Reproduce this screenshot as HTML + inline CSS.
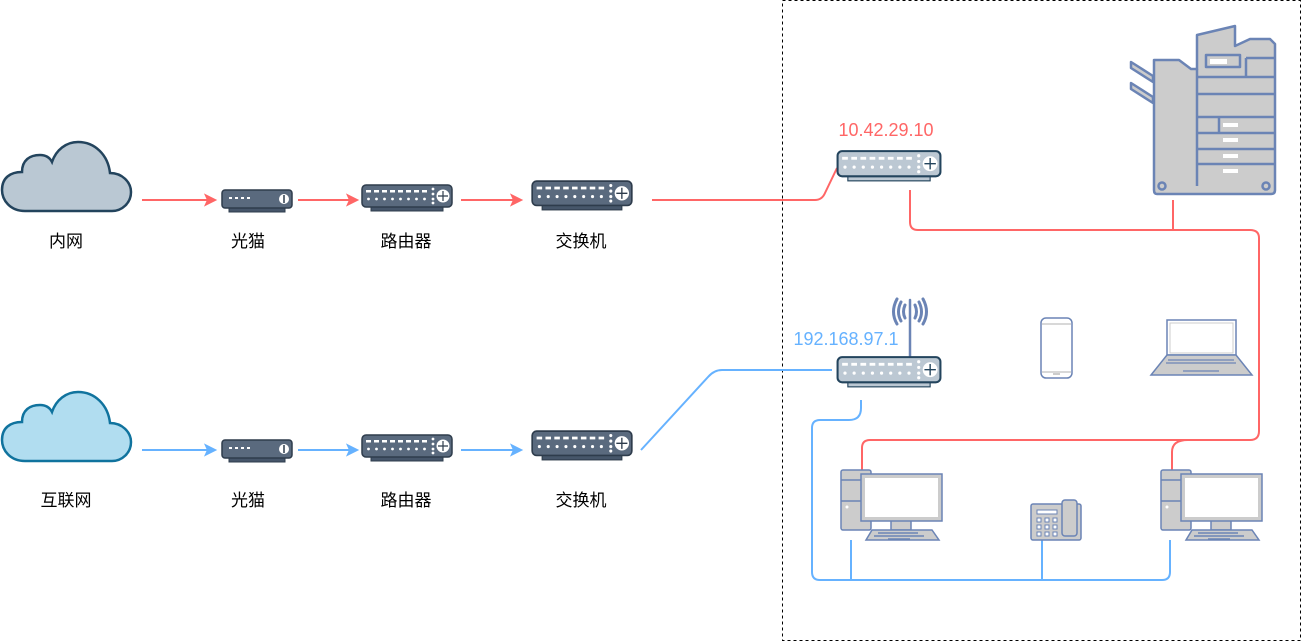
<!DOCTYPE html>
<html><head><meta charset="utf-8"><style>
html,body{margin:0;padding:0;background:#fff;}
svg{display:block;}
text{font-family:"Liberation Sans","Noto Sans CJK SC",sans-serif;}
</style></head><body>
<svg width="1303" height="642" viewBox="0 0 1303 642" xmlns="http://www.w3.org/2000/svg">
<defs>
<symbol id="rtD" viewBox="0 0 92 28">
 <rect x="10" y="22" width="72" height="5" fill="#46566a" stroke="#2e3c4c" stroke-width="1"/>
 <rect x="1" y="1" width="90" height="22" rx="4" fill="#5a6a7e" stroke="#2e3c4c" stroke-width="1.5"/>
 <g fill="#fff">
  <rect x="5" y="6" width="5" height="2.5"/><rect x="13" y="6" width="5" height="2.5"/><rect x="21" y="6" width="5" height="2.5"/><rect x="29" y="6" width="5" height="2.5"/><rect x="37" y="6" width="5" height="2.5"/><rect x="45" y="6" width="5" height="2.5"/><rect x="53" y="6" width="5" height="2.5"/><rect x="61" y="6" width="5" height="2.5"/>
  <circle cx="7.5" cy="15" r="1.4"/><circle cx="15.5" cy="15" r="1.4"/><circle cx="23.5" cy="15" r="1.4"/><circle cx="31.5" cy="15" r="1.4"/><circle cx="39.5" cy="15" r="1.4"/><circle cx="47.5" cy="15" r="1.4"/><circle cx="55.5" cy="15" r="1.4"/><circle cx="63.5" cy="15" r="1.4"/>
  <circle cx="72" cy="5" r="1.4"/><circle cx="72" cy="10" r="1.4"/><circle cx="72" cy="15" r="1.4"/><circle cx="72" cy="19" r="1.4"/>
  <circle cx="82" cy="12" r="6.5"/>
 </g>
 <path d="M77 12h10M82 7v10" stroke="#2e3c4c" stroke-width="1.2"/>
</symbol>
<symbol id="rtL" viewBox="0 0 92 28">
 <rect x="10" y="22" width="72" height="5" fill="#bcc8d3" stroke="#23445d" stroke-width="1"/>
 <rect x="1" y="1" width="90" height="22" rx="4" fill="#bcc8d3" stroke="#23445d" stroke-width="1.8"/>
 <g fill="#fff">
  <rect x="5" y="6" width="5" height="2.5"/><rect x="13" y="6" width="5" height="2.5"/><rect x="21" y="6" width="5" height="2.5"/><rect x="29" y="6" width="5" height="2.5"/><rect x="37" y="6" width="5" height="2.5"/><rect x="45" y="6" width="5" height="2.5"/><rect x="53" y="6" width="5" height="2.5"/><rect x="61" y="6" width="5" height="2.5"/>
  <circle cx="7.5" cy="15" r="1.4"/><circle cx="15.5" cy="15" r="1.4"/><circle cx="23.5" cy="15" r="1.4"/><circle cx="31.5" cy="15" r="1.4"/><circle cx="39.5" cy="15" r="1.4"/><circle cx="47.5" cy="15" r="1.4"/><circle cx="55.5" cy="15" r="1.4"/><circle cx="63.5" cy="15" r="1.4"/>
  <circle cx="72" cy="5" r="1.4"/><circle cx="72" cy="10" r="1.4"/><circle cx="72" cy="15" r="1.4"/><circle cx="72" cy="19" r="1.4"/>
  <circle cx="82" cy="12" r="6.5"/>
 </g>
 <path d="M77 12h10M82 7v10" stroke="#23445d" stroke-width="1.2"/>
</symbol>
<symbol id="modem" viewBox="0 0 72 24">
 <rect x="8" y="18" width="56" height="5" fill="#46566a" stroke="#2e3c4c"/>
 <rect x="1" y="1" width="70" height="18" rx="3" fill="#5a6a7e" stroke="#2e3c4c" stroke-width="1.5"/>
 <g fill="#fff"><rect x="8" y="8" width="3" height="2"/><rect x="14" y="8" width="3" height="2"/><rect x="20" y="8" width="3" height="2"/><rect x="26" y="8" width="3" height="2"/><circle cx="63" cy="10" r="5"/></g>
 <path d="M63 6v8" stroke="#2e3c4c" stroke-width="1.5"/>
</symbol>
<symbol id="pc" viewBox="0 0 104 72">
 <rect x="1" y="1" width="30" height="60" rx="2" fill="#ccc" stroke="#6b84b5" stroke-width="1.5"/>
 <path d="M1 11h30M1 32h30" stroke="#6b84b5" stroke-width="1.5"/>
 <circle cx="7" cy="38" r="1.5" fill="#fff"/>
 <rect x="51" y="50" width="20" height="11" fill="#ccc" stroke="#6b84b5" stroke-width="1.5"/>
 <rect x="21" y="5" width="81" height="47" fill="#ccc" stroke="#6b84b5" stroke-width="1.5"/>
 <rect x="25" y="9" width="73" height="39" fill="#fff"/>
 <path d="M32 61h60l7 10H26z" fill="#ccc" stroke="#6b84b5" stroke-width="1.5"/>
 <path d="M38 64h40M34 67h50M48 70h22" stroke="#6b84b5" stroke-width="1.5"/>
</symbol>
</defs>

<rect x="782.5" y="0.5" width="518" height="640" fill="none" stroke="#000" stroke-dasharray="3,3"/>

<path d="M25,211 C10,211 2,200 2,190 C2,178 10,172 22,172 C22,160 30,155 40,155 C46,155 50,158 52,162 C56,150 66,142 78,142 C95,142 108,155 110,173 C122,173 131,182 131,192 C131,203 122,211 112,211 Z" fill="#bac8d3" stroke="#23445d" stroke-width="2.5"/>
<path d="M25,461 C10,461 2,450 2,440 C2,428 10,422 22,422 C22,410 30,405 40,405 C46,405 50,408 52,412 C56,400 66,392 78,392 C95,392 108,405 110,423 C122,423 131,432 131,442 C131,453 122,461 112,461 Z" fill="#b1ddf0" stroke="#10739e" stroke-width="2.5"/>

<g stroke="#ff6666" stroke-width="2" fill="#ff6666">
 <line x1="142" y1="200" x2="208" y2="200"/><path d="M215 200l-9-4.5 2 4.5-2 4.5z"/>
 <line x1="298" y1="200" x2="350" y2="200"/><path d="M357 200l-9-4.5 2 4.5-2 4.5z"/>
 <line x1="461" y1="200" x2="514" y2="200"/><path d="M521 200l-9-4.5 2 4.5-2 4.5z"/>
</g>
<g stroke="#66b2ff" stroke-width="2" fill="#66b2ff">
 <line x1="142" y1="450" x2="208" y2="450"/><path d="M215 450l-9-4.5 2 4.5-2 4.5z"/>
 <line x1="298" y1="450" x2="350" y2="450"/><path d="M357 450l-9-4.5 2 4.5-2 4.5z"/>
 <line x1="461" y1="450" x2="514" y2="450"/><path d="M521 450l-9-4.5 2 4.5-2 4.5z"/>
</g>

<use href="#modem" x="221" y="189" width="72" height="24"/>
<use href="#rtD" x="361" y="184" width="92" height="28"/>
<use href="#rtD" x="531" y="180" width="102" height="31"/>
<use href="#modem" x="221" y="439" width="72" height="24"/>
<use href="#rtD" x="361" y="434" width="92" height="28"/>
<use href="#rtD" x="531" y="430" width="102" height="31"/>

<g font-size="17" fill="#000" text-anchor="middle">
 <text x="66" y="247">内网</text><text x="248" y="247">光猫</text><text x="406" y="247">路由器</text><text x="581" y="247">交换机</text>
 <text x="66" y="506">互联网</text><text x="248" y="506">光猫</text><text x="406" y="506">路由器</text><text x="581" y="506">交换机</text>
</g>

<g fill="none" stroke="#ff6666" stroke-width="2">
 <path d="M652 200H815Q822 200 825 193L837 168"/>
 <path d="M910 190V222Q910 230 918 230H1250Q1259 230 1259 238V431Q1259 440 1250 440H870Q862 440 862 448V470"/>
 <path d="M1173 200V230"/>
 <path d="M1188 440Q1172 440 1172 452V470"/>
</g>
<g fill="none" stroke="#66b2ff" stroke-width="2">
 <path d="M641 450L708 377Q714 370 722 370H832"/>
 <path d="M861 400V408Q861 420 849 420H820Q812 420 812 428V572Q812 580 820 580H1162Q1170 580 1170 572V540"/>
 <path d="M851 540V580M1042 540V580"/>
</g>

<use href="#rtL" x="836" y="150" width="106" height="32"/>
<text x="886" y="136" font-size="18" fill="#ff6666" text-anchor="middle">10.42.29.10</text>

<g fill="none" stroke="#6b84b5" stroke-width="3" stroke-linecap="round">
 <path d="M910 300V358" stroke-width="2.5"/>
 <path d="M905 305q-3 7 0 13M901 302q-5 10 0 19M897 299q-7 13 0 25M915 305q3 7 0 13M919 302q5 10 0 19M923 299q7 13 0 25"/>
</g>
<use href="#rtL" x="836" y="356" width="106" height="32"/>
<text x="846" y="345" font-size="18" fill="#66b2ff" text-anchor="middle">192.168.97.1</text>

<rect x="1041" y="318" width="31" height="60" rx="5" fill="#fff" stroke="#6b84b5" stroke-width="1.5"/>
<path d="M1042 324h29M1042 372h29" stroke="#ccc" stroke-width="1.5"/>
<rect x="1053" y="373" width="7" height="2" fill="#ccc"/>

<rect x="1167" y="320" width="69" height="35" fill="#fff" stroke="#6b84b5" stroke-width="1.5"/>
<rect x="1170" y="323" width="63" height="30" fill="#fff" stroke="#ccc" stroke-width="1"/>
<path d="M1167 355h69l16 20H1151z" fill="#ccc" stroke="#6b84b5" stroke-width="1.5"/>
<path d="M1168 360h66M1166 363h70M1183 371h36" stroke="#6b84b5" stroke-width="1.2"/>

<use href="#pc" x="840" y="469" width="104" height="72"/>
<use href="#pc" x="1160" y="469" width="104" height="72"/>

<rect x="1031" y="504" width="50" height="36" rx="2" fill="#ccc" stroke="#6b84b5" stroke-width="1.5"/>
<rect x="1062" y="500" width="15" height="36" rx="3" fill="#ccc" stroke="#6b84b5" stroke-width="1.5"/>
<rect x="1037" y="510" width="20" height="4" fill="#fff" stroke="#6b84b5"/>
<g fill="#fff" stroke="#6b84b5" stroke-width="1">
 <rect x="1037" y="518" width="4" height="4"/><rect x="1045" y="518" width="4" height="4"/><rect x="1053" y="518" width="4" height="4"/>
 <rect x="1037" y="525" width="4" height="4"/><rect x="1045" y="525" width="4" height="4"/><rect x="1053" y="525" width="4" height="4"/>
 <rect x="1037" y="532" width="4" height="4"/><rect x="1045" y="532" width="4" height="4"/><rect x="1053" y="532" width="4" height="4"/>
</g>

<g stroke="#6b84b5" stroke-width="2.5" fill="#ccc" stroke-linejoin="round">
 <path d="M1131 62l22 14v6l-22-14z"/>
 <path d="M1131 83l22 14v6l-22-14z"/>
 <path d="M1197 35l38-9v20l15-7h20l5 5v146q0 4-4 4H1157q-3 0-3-4V60h25l12 9h6z"/>
 <path d="M1197 69V186M1197 77h78M1197 94h78M1197 117h78M1197 133h78M1197 149h78M1197 164h78M1219 117v16M1246 58v18M1246 58h29"/>
 <rect x="1206" y="55" width="34" height="12"/>
 <circle cx="1162" cy="186" r="3.5"/><circle cx="1266" cy="186" r="3.5"/>
</g>
<g fill="#fff"><rect x="1210" y="59" width="17" height="5"/><rect x="1223" y="123" width="15" height="4"/><rect x="1223" y="138" width="15" height="4"/><rect x="1223" y="154" width="15" height="4"/><rect x="1223" y="169" width="15" height="4"/></g>
</svg>
</body></html>
